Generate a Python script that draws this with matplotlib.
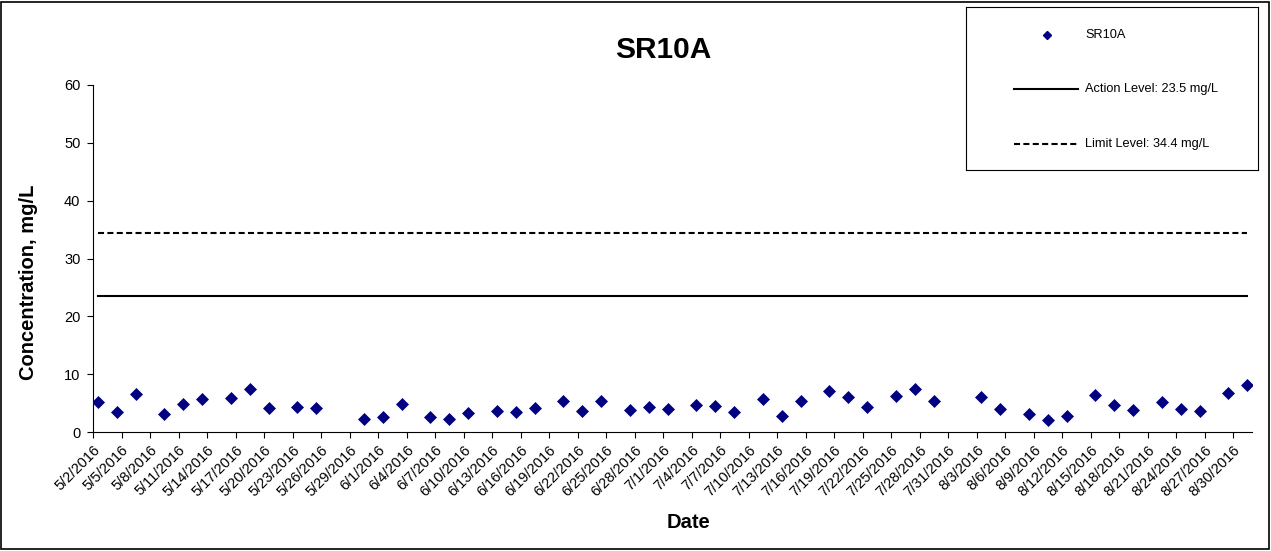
import matplotlib
matplotlib.use("Agg")
import matplotlib.pyplot as plt
from matplotlib.patches import Rectangle
import pandas as pd

plt.rcParams['font.family'] = ['Liberation Sans', 'DejaVu Sans']

title = "SR10A"
series_name = "SR10A"
dates = ["5/2/2016", "5/4/2016", "5/6/2016", "5/9/2016", "5/11/2016", "5/13/2016",
         "5/16/2016", "5/18/2016", "5/20/2016", "5/23/2016", "5/25/2016", "5/30/2016",
         "6/1/2016", "6/3/2016", "6/6/2016", "6/8/2016", "6/10/2016", "6/13/2016",
         "6/15/2016", "6/17/2016", "6/20/2016", "6/22/2016", "6/24/2016", "6/27/2016",
         "6/29/2016", "7/1/2016", "7/4/2016", "7/6/2016", "7/8/2016", "7/11/2016",
         "7/13/2016", "7/15/2016", "7/18/2016", "7/20/2016", "7/22/2016", "7/25/2016",
         "7/27/2016", "7/29/2016", "8/3/2016", "8/5/2016", "8/8/2016", "8/10/2016",
         "8/12/2016", "8/15/2016", "8/17/2016", "8/19/2016", "8/22/2016", "8/24/2016",
         "8/26/2016", "8/29/2016", "8/31/2016"]
values = [5.24, 3.5, 6.57, 3.17, 4.78, 5.65,
          5.94, 7.38, 4.09, 4.38, 4.09, 2.31,
          2.65, 4.78, 2.54, 2.19, 3.23, 3.69,
          3.4, 4.21, 5.36, 3.69, 5.36, 3.8,
          4.26, 3.92, 4.67, 4.5, 3.4, 5.65,
          2.77, 5.36, 7.15, 6.0, 4.38, 6.28,
          7.38, 5.41, 6.11, 3.98, 3.11, 2.08,
          2.77, 6.4, 4.67, 3.8, 5.24, 3.92,
          3.63, 6.69, 8.13]
action_level = 23.5
limit_level = 34.4
action_label = "Action Level: 23.5 mg/L"
limit_label = "Limit Level: 34.4 mg/L"
x_start = "5/2/2016"
x_end = "9/1/2016"
tick_start = "5/2/2016"
tick_end = "8/30/2016"
y_ticks = [0, 10, 20, 30, 40, 50, 60]

W, H = 1271, 551
fig = plt.figure(figsize=(W / 100, H / 100), dpi=100)
ax = fig.add_axes([93 / W, 1 - 432 / H, (1252 - 93) / W, (432 - 85) / H])

x = pd.to_datetime(dates, format="%m/%d/%Y") + pd.Timedelta(hours=12)
ax.plot(x, values, linestyle='none', marker='D', markersize=6.6,
        color='#000080', markeredgecolor='#000080', markeredgewidth=0.5, zorder=3)

lx = [x[0], x[-1]]
ax.plot(lx, [action_level, action_level], color='black', lw=1.5)
ax.plot(lx, [limit_level, limit_level], color='black', lw=1.5, linestyle=(0, (2.9, 1.6)))

ax.set_xlim(pd.to_datetime(x_start), pd.to_datetime(x_end))
ax.set_ylim(0, 60)
ax.set_yticks(y_ticks)
ticks = pd.date_range(pd.to_datetime(tick_start), pd.to_datetime(tick_end), freq='3D')
ax.set_xticks(ticks)
ax.set_xticklabels([f"{t.month}/{t.day}/{t.year}" for t in ticks], rotation=45,
                   ha='right', va='top', rotation_mode='anchor')
ax.tick_params(axis='both', direction='out', length=4, width=0.8, labelsize=10.5, colors='black')
ax.tick_params(axis='y', pad=5)
ax.tick_params(axis='x', pad=4)
for s in ['top', 'right']:
    ax.spines[s].set_visible(False)
for s in ['left', 'bottom']:
    ax.spines[s].set_linewidth(0.8)

fig.text(29 / W, 1 - 282.5 / H, "Concentration, mg/L", fontsize=14.5, fontweight='bold',
         rotation=90, ha='center', va='center')
fig.text(688 / W, 1 - 522 / H, "Date", fontsize=14.5, fontweight='bold', ha='center', va='center')
fig.text(663 / W, 1 - 50 / H, title, fontsize=21.5, fontweight='bold', ha='center', va='center')

# outer chart border
fig.add_artist(Rectangle((1 / W, 2 / H), (W - 3) / W, (H - 4) / H, transform=fig.transFigure,
                         fill=False, edgecolor='black', lw=1.2))

# legend box
lx0, ly0, lw_, lh_ = 966, 7, 292, 163
lax = fig.add_axes([lx0 / W, 1 - (ly0 + lh_) / H, lw_ / W, lh_ / H])
lax.set_xlim(0, lw_)
lax.set_ylim(lh_, 0)
lax.set_xticks([])
lax.set_yticks([])
for s in lax.spines.values():
    s.set_linewidth(0.8)
lax.plot([1047 - lx0], [35 - ly0], marker='D', markersize=4.2, color='#000080', linestyle='none')
lax.plot([1014 - lx0, 1078 - lx0], [89 - ly0] * 2, color='black', lw=1.5)
lax.plot([1014 - lx0, 1078 - lx0], [144 - ly0] * 2, color='black', lw=1.5, linestyle=(0, (2.9, 1.6)))
lax.text(1085 - lx0, 35 - ly0, series_name, fontsize=9.2, va='center', ha='left')
lax.text(1085 - lx0, 89 - ly0, action_label, fontsize=9.2, va='center', ha='left')
lax.text(1085 - lx0, 144 - ly0, limit_label, fontsize=9.2, va='center', ha='left')

fig.savefig("out.png", dpi=100)
